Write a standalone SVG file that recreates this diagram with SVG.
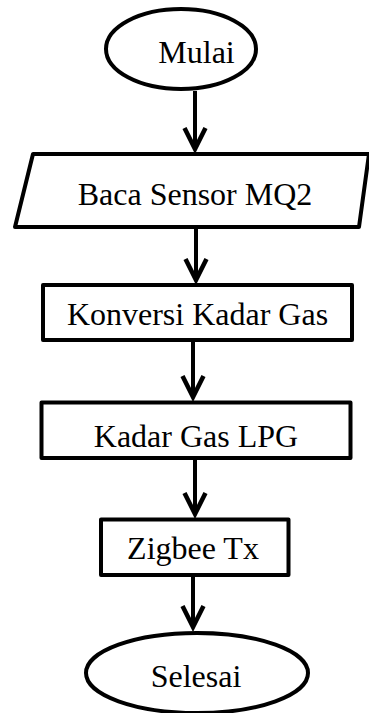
<svg xmlns="http://www.w3.org/2000/svg" width="369" height="713" viewBox="0 0 369 713">
<style>
.shape{fill:#fff;stroke:#000;stroke-width:4;stroke-linejoin:round}
.lbl{font-family:"Liberation Serif","Times New Roman",serif;font-size:32px;fill:#000;text-anchor:middle}
.conn{stroke:#000;stroke-width:4;fill:none}
</style>
<defs>
<marker id="arr" markerUnits="userSpaceOnUse" viewBox="-26 -14 30 28" refX="0" refY="0" markerWidth="30" markerHeight="28" orient="auto">
<path d="M-21,-10.5 L0,0 L-21,10.5" fill="none" stroke="#000" stroke-width="4.5" stroke-linejoin="miter"/>
</marker>
</defs>
<rect width="369" height="713" fill="#fff"/>
<g id="connectors">
<line class="conn" x1="195" y1="91" x2="195" y2="149" marker-end="url(#arr)"/>
<line class="conn" x1="196" y1="229" x2="196" y2="280" marker-end="url(#arr)"/>
<line class="conn" x1="193" y1="342" x2="193" y2="397" marker-end="url(#arr)"/>
<line class="conn" x1="195" y1="460" x2="195" y2="514" marker-end="url(#arr)"/>
<line class="conn" x1="193" y1="577" x2="193" y2="627" marker-end="url(#arr)"/>
</g>
<g id="mulai">
<ellipse class="shape" cx="181" cy="49" rx="75" ry="40"/>
<text class="lbl" x="196.5" y="63">Mulai</text>
</g>
<g id="baca">
<polygon class="shape" points="33,154 369,154 359,227 15,227"/>
<text class="lbl" x="195" y="205">Baca Sensor MQ2</text>
</g>
<g id="konversi">
<rect class="shape" x="43" y="285" width="309" height="55"/>
<text class="lbl" x="197.5" y="325">Konversi Kadar Gas</text>
</g>
<g id="kadar">
<rect class="shape" x="41.5" y="402.5" width="309" height="55.5"/>
<text class="lbl" x="196" y="447">Kadar Gas LPG</text>
</g>
<g id="zigbee">
<rect class="shape" x="101" y="519.5" width="187.5" height="55.5"/>
<text class="lbl" x="193" y="559">Zigbee Tx</text>
</g>
<g id="selesai">
<ellipse class="shape" cx="197" cy="673" rx="111" ry="40"/>
<text class="lbl" x="196" y="687">Selesai</text>
</g>
</svg>
